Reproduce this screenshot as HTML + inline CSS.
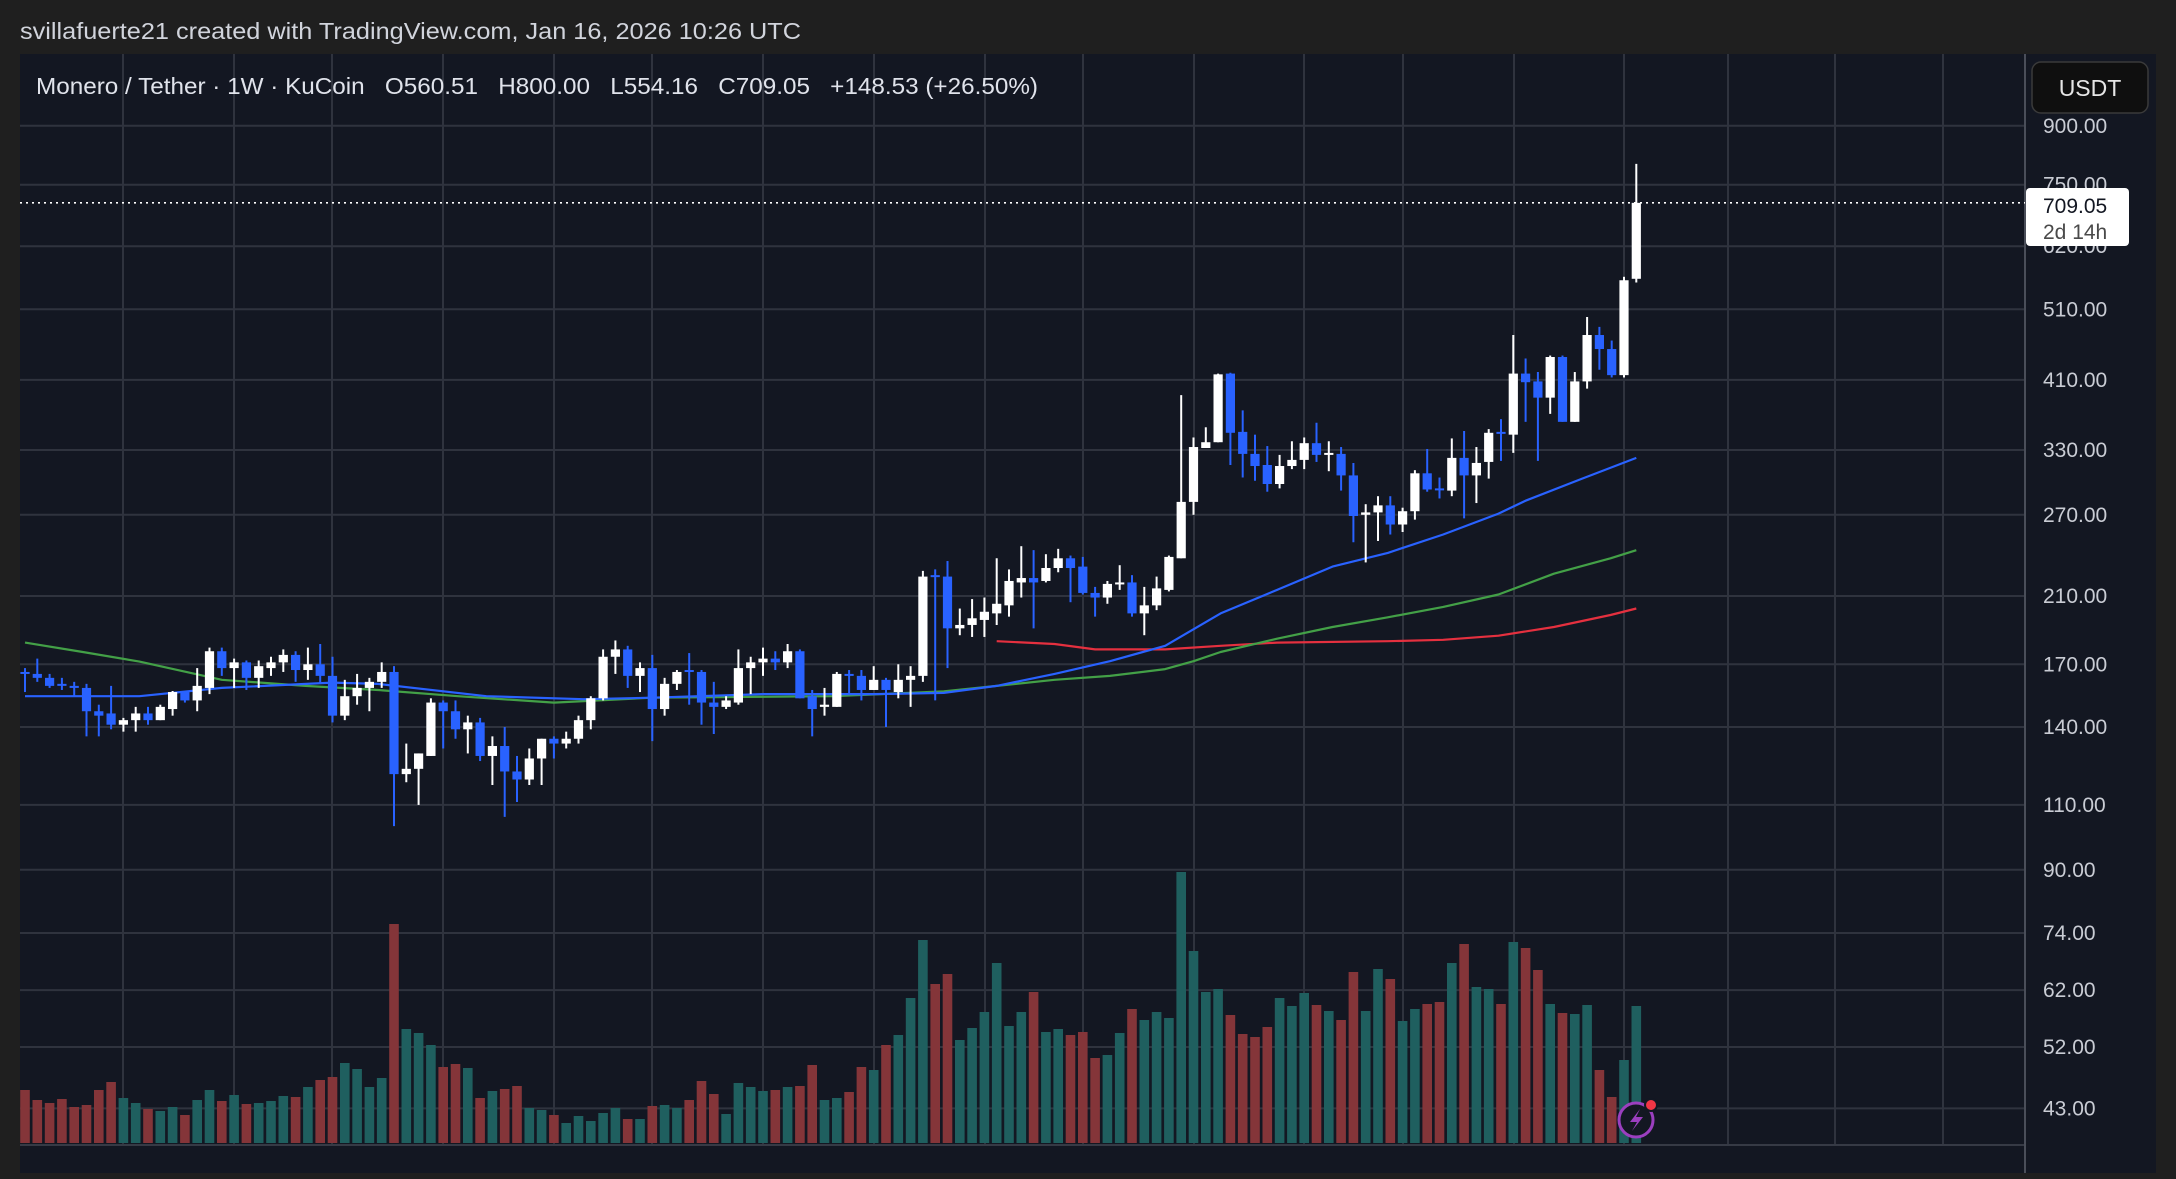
<!DOCTYPE html>
<html><head><meta charset="utf-8"><title>Monero / Tether 1W</title>
<style>
html,body{margin:0;padding:0;background:#1f1f1f;}
svg{display:block;font-family:"Liberation Sans",sans-serif;}
.pre{white-space:pre;}
</style></head>
<body>
<svg id="chart" width="2176" height="1179" viewBox="0 0 2176 1179" xmlns="http://www.w3.org/2000/svg">
<rect x="0" y="0" width="2176" height="1179" fill="#1f1f1f"/>
<rect x="20" y="54" width="2136" height="1119" fill="#131722"/>
<text x="20" y="39" fill="#d1d4dc" font-size="23" textLength="781" lengthAdjust="spacingAndGlyphs">svillafuerte21 created with TradingView.com, Jan 16, 2026 10:26 UTC</text>
<g id="grid"></g>
<g id="vol"></g>
<g id="ma"></g>
<g id="candles"></g>
<line x1="20" y1="1145" x2="2025" y2="1145" stroke="#363a45" stroke-width="2"/>
<line x1="2025" y1="54" x2="2025" y2="1173" stroke="#4a4e59" stroke-width="2"/>
<g id="axis"></g>
<g id="lastline"></g>
<g>
<rect x="2026" y="188" width="103" height="58" rx="4" fill="#ffffff"/>
<text x="2043" y="213" font-size="21" fill="#131722">709.05</text>
<text x="2043" y="239" font-size="21" fill="#4a4a4a">2d 14h</text>
</g>
<g>
<rect x="2032" y="62" width="116" height="51" rx="9" fill="#0f0f0f" stroke="#3a3a3a" stroke-width="1.5"/>
<text x="2090" y="96" font-size="23" fill="#e6e6e6" text-anchor="middle">USDT</text>
</g>
<text class="pre" xml:space="preserve" x="36" y="94" fill="#e0e3eb" font-size="23" textLength="1002" lengthAdjust="spacingAndGlyphs">Monero / Tether · 1W · KuCoin   O560.51   H800.00   L554.16   C709.05   +148.53 (+26.50%)</text>
<g>
<circle cx="1636" cy="1120" r="17" fill="#131722" stroke="#9b3fbf" stroke-width="3"/>
<path d="M1640 1109 L1630 1122 L1637 1122 L1632 1131 L1643 1117 L1636 1117 Z" fill="#9b3fbf"/>
<circle cx="1651" cy="1105" r="6" fill="#f23645" stroke="#131722" stroke-width="2"/>
</g>
</svg>
<script>
const opens=[166,165,163,160,159,158,147,146,141,143,146,143,148,156,152,158,177,168,171,163,168,171,175,167,170,164,145,154,158,161,166,121,123,128,151,147,139,142,128,132,122,119,127,135,133,135,143,153,174,178,164,168,148,160,167,166,151,149,151,168,171,173,171,177,154,149,149,165,164,157,162,156,162,164,224,223,190,192,195,199,204,219,222,220,229,236,230,212,209,218,219,199,204,214,236,281,332,338,418,349,326,315,297,314,320,337,326,326,305,270,272,278,262,273,307,293,291,322,305,318,349,346,418,408,388,440,360,408,471,451,416,560.51];
const highs=[168,173,165,163,161,160,150,159,144,149,149,150,156.5,156.5,168,179,179,173,172,172,174,178,177,179,181,174,162,165,163,171,169,133,129,153,152,152,145,144,136,140,128,131,135,136,138,145,154,178,183,180,171,175,163,167,176,167,161,154,178,174,179,177,181,178,157,158,166,167,167,169,163,170,169,227,228,234,202,208,209,236,228,245,242,239,243,238,237,216,220,231,224,216,223,238,391,343,354,418,419,373,346,334,325,339,343,359,339,333,317,279,286,286,276,310,331,303,342,350,333,352,363,471,438,420,442,442,420,498,483,463,564,800];
const lows=[156,161,158,157,154,136,136,139,138,138,141,143,145,151,147,155,164,158,157,158,164,166,161,162,160,142,143,150,147,158,103,118,110,128,131,135,129,126,117,106,111,117,117,127,131,133,139,152,165,158,156,134,145,157,150,141,137,148,150,155,164,167,168,153,136,145,149,155,152,157,140,153,149,161,152,168,186,185,185,192,197,209,190,219,226,206,211,197,205,214,197,186,201,213,236,270,332,338,315,303,300,290,293,311,311,318,309,291,248,233,249,254,256,266,290,284,286,267,280,302,319,327,360,319,369,360,360,399,423,413,413,554.16];
const closes=[165,163,159,159.5,158,147,145,141,143,146,143,149,156,152,159,177,168,171,163,169,171,175,167,170,164,145,154,158,161,166,121,123,129,151,147,139,142,128,132,122,119,127,135,133,135,143,153,174,178,164,168,148,160,166,166,151,149,152,168,171,173,171,177,153,148,150,165,164,157,162,157,162,164,223,223,190,192,196,200,205,220,222,219,229,236,229,212,209,218,219,199,204,215,237,281,333,338,417,348,326,314,297,314,320,337,325,327,305,269,272,278,262,273,307,292,292,322,305,317,348,348,418,407,388,440,360,408,471,451,416,558,709.05];
const volumes=[53,43,40,44,36,38,53,61,45,40,34,32,36,28,43,53,42,48,39,40,42,47,46,56,63,66,80,74,56,65,219,114,110,98,76,79,75,45,52,54,57,35,33,28,20,27,22,30,35,24,24,37,38,35,43,62,49,29,60,56,52,53,56,57,78,43,45,51,76,73,98,108,145,203,159,169,103,115,131,180,117,131,151,111,114,108,111,85,88,110,134,123,131,125,271,192,151,154,128,109,106,116,145,137,150,138,132,123,171,132,174,164,122,134,139,141,180,199,156,154,139,201,195,173,139,130,129,138,73,46,83,137];
const maBlueIdx=[0,9.3,16,25,28.7,37.5,45.4,51,60,69,74.7,79,83.7,88.2,92.7,97.2,101.8,106.3,110.8,115.3,119.8,122,126.6,131];
const maBlueVal=[154,154,158,160.6,160,154,152.6,153.3,155,155,155.6,159,165,171.6,180,199,214,230,240,254,271,282,302,322];
const maGreenIdx=[0,4.7,9.3,16,22.8,28.7,35.2,43,51,65.7,74.7,79,83.7,88.2,92.7,95,97.2,101.8,106.3,110.8,115.3,119.8,124.3,128.9,131];
const maGreenVal=[181.8,176.6,171.4,162,159,157,154,151,153.3,154,156.3,159,162,164,167.5,171.6,176.6,184,190.8,196.6,203,211,225,236,242];
const maRedIdx=[79,83.7,87,92.7,97.2,101.8,110.8,115.3,119.8,124.3,128.9,131];
const maRedVal=[182.6,181,178,178,180,181.8,182.6,183.4,185.7,190.8,198,202];
const priceTicks=[900,750,620,510,410,330,270,210,170,140,110,90,74,62,52,43];
const lastPrice=709.05;
const volMax=271;

const NS="http://www.w3.org/2000/svg";
const PANE_L=20, PANE_R=2025, PANE_T=54, PANE_B=1144;
function yOf(p){return 184.7+(Math.log(750)-Math.log(p))*323.1;}
function xOf(i){return 25+i*12.3;}
function vH(v){return v/volMax*271;}
function mk(tag,attrs,parent){const e=document.createElementNS(NS,tag);for(const k in attrs)e.setAttribute(k,attrs[k]);parent.appendChild(e);return e;}

const grid=document.getElementById('grid');
const vgrid=[123,234,332,443,554,652,763,874,985,1083,1194,1304,1403,1514,1624,1728,1835,1943];
vgrid.forEach(x=>{
  const l=mk('line',{x1:x,y1:PANE_T,x2:x,y2:PANE_B,stroke:'#2f333e','stroke-width':2},grid);
  
  
});
const axis=document.getElementById('axis');
priceTicks.forEach(p=>{
  const y=yOf(p);
  const l=mk('line',{x1:PANE_L,y1:y,x2:PANE_R,y2:y,stroke:'#2f333e','stroke-width':2},grid);
  
  
  const t=mk('text',{x:2043,y:y+7,'font-size':21,fill:'#c9ccd4'},axis);
  t.textContent=p.toFixed(2);
  
  
});

const vol=document.getElementById('vol');
volumes.forEach((v,i)=>{
  const up=closes[i]>=opens[i];
  const h=vH(v);
  const r=mk('rect',{x:xOf(i)-4.8,y:1143-h,width:9.6,height:h,fill:up?'#1f5f5f':'#843539'},vol);
  
  
});

const ma=document.getElementById('ma');
function drawMA(idx,val,color,name){
  const pts=idx.map((k,j)=>xOf(k).toFixed(1)+','+yOf(val[j]).toFixed(1)).join(' ');
  const pl=mk('polyline',{points:pts,fill:'none',stroke:color,'stroke-width':2.2,'stroke-linejoin':'round'},ma);
  
  
}
drawMA(maRedIdx,maRedVal,'#e5303f','ma-red-line');
drawMA(maGreenIdx,maGreenVal,'#43a047','ma-green-line');
drawMA(maBlueIdx,maBlueVal,'#2962ff','ma-blue-line');

const cg=document.getElementById('candles');
opens.forEach((o,i)=>{
  const c=closes[i], up=c>=o, col=up?'#ffffff':'#2962ff', x=xOf(i);
  const w=mk('line',{x1:x,y1:yOf(highs[i]),x2:x,y2:yOf(lows[i]),stroke:col,'stroke-width':2},cg);
  
  
  const top=yOf(Math.max(o,c)), bot=yOf(Math.min(o,c));
  const b=mk('rect',{x:x-4.6,y:top,width:9.2,height:Math.max(2,bot-top),fill:col},cg);
  
  
});

const ll=document.getElementById('lastline');
const dl=mk('line',{x1:PANE_L,y1:yOf(lastPrice),x2:PANE_R,y2:yOf(lastPrice),stroke:'#ffffff','stroke-width':1.6,'stroke-dasharray':'2 4'},ll);


</script>
</body></html>
